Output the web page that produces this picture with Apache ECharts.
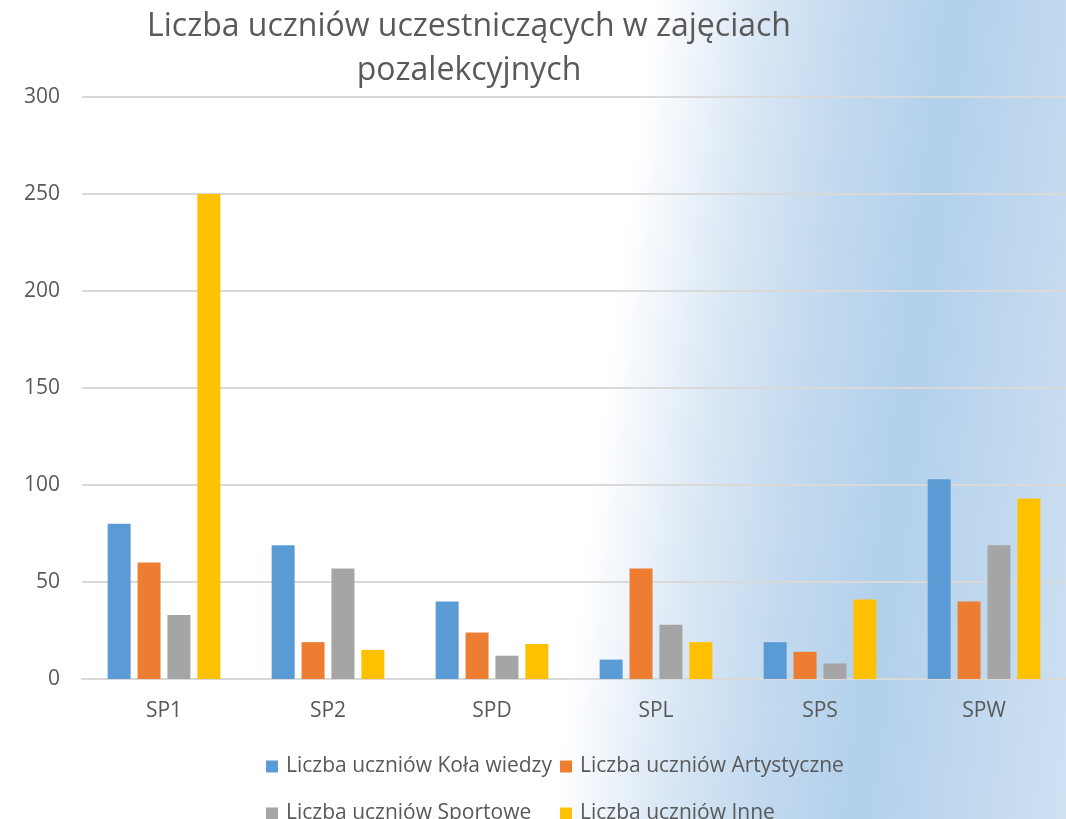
<!DOCTYPE html>
<html>
<head>
<meta charset="utf-8">
<script src="https://cdn.jsdelivr.net/npm/echarts@6/dist/echarts.min.js"></script>
<style>
  html, body { margin: 0; padding: 0; }
  #chart {
    width: 1066px;
    height: 819px;
    background: linear-gradient(97deg, #ffffff 0%, #ffffff 56%, #dbe8f5 65%, #c3daef 73%, #b2d0eb 82%, #c2d9ef 92%, #cfe1f3 100%);
  }
</style>
</head>
<body>
<div id="chart"></div>
<script>
var categories = ['SP1', 'SP2', 'SPD', 'SPL', 'SPS', 'SPW']
var seriesNames = [
  'Liczba uczniów Koła wiedzy',
  'Liczba uczniów Artystyczne',
  'Liczba uczniów Sportowe',
  'Liczba uczniów Inne'
]
var kolaWiedzy = [80, 69, 40, 10, 19, 103]
var artystyczne = [60, 19, 24, 57, 14, 40]
var sportowe = [33, 57, 12, 28, 8, 69]
var inne = [250, 15, 18, 19, 41, 93]
var yTicks = { min: 0, max: 300, interval: 50 }

var colors = ['#5b9bd5', '#ed7d31', '#a5a5a5', '#ffc000']
var font = '"Open Sans", Lato, sans-serif'
var textColor = '#595959'

var chart = echarts.init(document.getElementById('chart'))

// one legend per item so the two rows line up as columns
function legendAt(name, left, top) {
  return {
    data: [name],
    left: left,
    top: top,
    icon: 'rect',
    itemWidth: 12,
    itemHeight: 12,
    padding: 0,
    selectedMode: false,
    textStyle: {
      color: textColor,
      fontFamily: font,
      fontSize: 21,
      padding: [0, 0, 0, 3]
    }
  }
}

chart.setOption({
  backgroundColor: 'transparent',
  animation: false,
  color: colors,
  graphic: [
    {
      type: 'text',
      x: 469,
      y: 49,
      style: {
        text: 'Liczba uczniów uczestniczących w zajęciach\npozalekcyjnych',
        fill: textColor,
        font: '32px ' + font,
        align: 'center',
        verticalAlign: 'middle',
        lineHeight: 44
      }
    }
  ],
  legend: [
    legendAt(seriesNames[0], 266, 756),
    legendAt(seriesNames[1], 560, 756),
    legendAt(seriesNames[2], 266, 803),
    legendAt(seriesNames[3], 560, 803)
  ],
  grid: {
    left: 82,
    right: 0,
    top: 97,
    bottom: 140
  },
  xAxis: {
    type: 'category',
    data: categories,
    axisTick: { show: false },
    axisLine: { lineStyle: { color: '#d9d9d9', width: 2 } },
    axisLabel: {
      color: textColor,
      fontFamily: font,
      fontSize: 21,
      margin: 22
    }
  },
  yAxis: {
    type: 'value',
    min: yTicks.min,
    max: yTicks.max,
    interval: yTicks.interval,
    axisLine: { show: false },
    axisTick: { show: false },
    axisLabel: {
      color: textColor,
      fontFamily: font,
      fontSize: 21,
      margin: 22
    },
    splitLine: { lineStyle: { color: '#d9d9d9', width: 2 } }
  },
  series: [kolaWiedzy, artystyczne, sportowe, inne].map(function (values, i) {
    return {
      name: seriesNames[i],
      type: 'bar',
      data: values,
      barWidth: 23,
      barGap: '30%',
      itemStyle: { color: colors[i] }
    }
  })
})
</script>
</body>
</html>
